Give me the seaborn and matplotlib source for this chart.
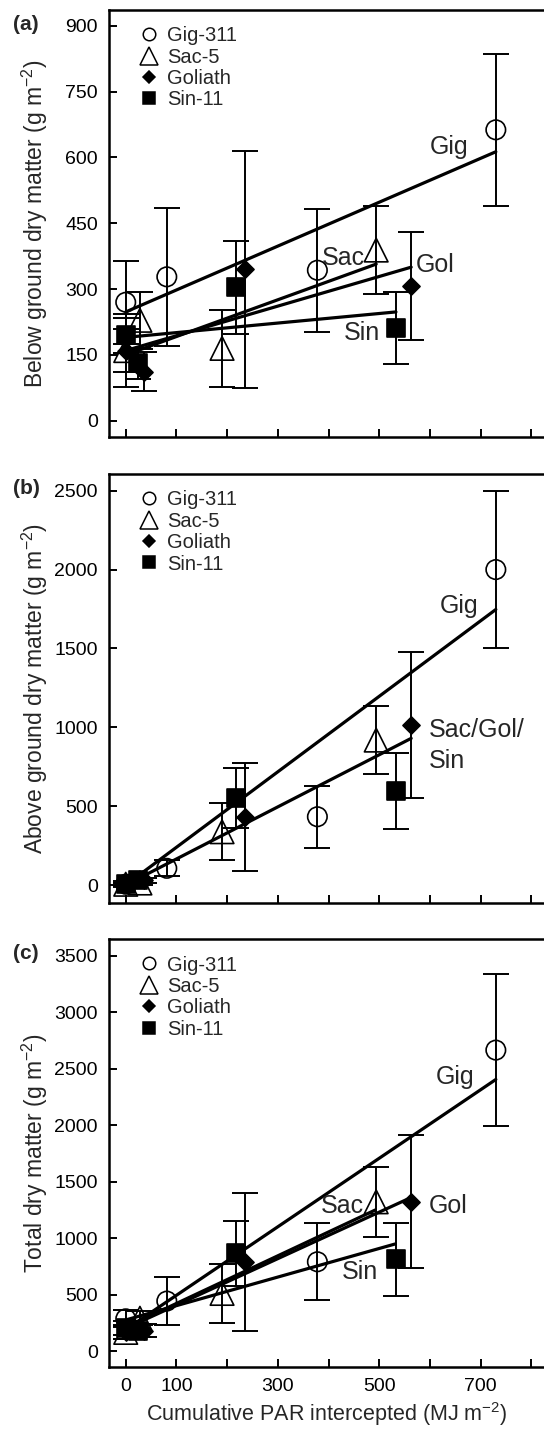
import numpy as np
import pandas as pd
import matplotlib
matplotlib.use("Agg")
import matplotlib.pyplot as plt
from matplotlib.lines import Line2D
import seaborn as sns

# ---------------- data ----------------
genotypes = ["Gig-311", "Sac-5", "Goliath", "Sin-11"]

# cumulative PAR intercepted (MJ m-2) at each harvest
gig_x = [0, 81, 378, 730]
sac_x = [0, 28, 190, 494]
gol_x = [0, 37, 236, 563]
sin_x = [0, 25, 217, 533]

# (a) below ground dry matter
gig_below = [270, 328, 343, 663]
gig_below_err = [95, 157, 140, 173]
sac_below = [160, 229, 165, 389]
sac_below_err = [50, 65, 87, 100]
gol_below = [160, 112, 345, 308]
gol_below_err = [83, 45, 270, 123]
sin_below = [195, 131, 304, 211]
sin_below_err = [40, 35, 106, 82]

# (b) above ground dry matter
gig_above = [5, 106, 433, 2000]
gig_above_err = [20, 50, 197, 500]
sac_above = [5, 13, 338, 919]
sac_above_err = [10, 15, 180, 215]
gol_above = [5, 30, 433, 1014]
gol_above_err = [10, 15, 343, 465]
sin_above = [5, 30, 549, 598]
sin_above_err = [10, 15, 190, 240]

# (c) total dry matter
gig_total = [285, 442, 790, 2664]
gig_total_err = [75, 210, 340, 675]
sac_total = [165, 290, 510, 1321]
sac_total_err = [60, 60, 260, 310]
gol_total = [170, 180, 790, 1321]
gol_total_err = [60, 60, 610, 590]
sin_total = [205, 180, 864, 811]
sin_total_err = [60, 60, 290, 320]

# fitted regression lines: (x0, y0, x1, y1)
lines_a = {"Gig": (0, 248, 730, 613), "Sac": (0, 150, 494, 357),
           "Gol": (0, 160, 563, 350), "Sin": (0, 190, 533, 248)}
lines_b = {"Gig": (0, 0, 730, 1747), "Sac/Gol/Sin": (0, 0, 563, 930)}
lines_c = {"Gig": (0, 190, 730, 2404), "Sac": (0, 210, 492, 1248),
           "Gol": (0, 200, 559, 1351), "Sin": (0, 275, 531, 947)}

# line labels: (text, x, y baseline)
labels_a = [("Gig", 600, 609), ("Sac", 387, 355), ("Gol", 573, 340), ("Sin", 431, 184)]
labels_b = [("Gig", 619, 1726), ("Sac/Gol/", 597, 940), ("Sin", 597, 739)]
labels_c = [("Gig", 611, 2363), ("Sac", 385, 1224), ("Gol", 598, 1224), ("Sin", 427, 634)]

y_labels = ["Below ground dry matter (g m$^{-2}$)",
            "Above ground dry matter (g m$^{-2}$)",
            "Total dry matter (g m$^{-2}$)"]
x_label = "Cumulative PAR intercepted (MJ m$^{-2}$)"
panel_tags = ["(a)", "(b)", "(c)"]

yticks_a = [0, 150, 300, 450, 600, 750, 900]
yticks_b = [0, 500, 1000, 1500, 2000, 2500]
yticks_c = [0, 500, 1000, 1500, 2000, 2500, 3000, 3500]
xtick_values = [0, 100, 200, 300, 400, 500, 600, 700, 800]
xtick_labels = ["0", "100", "", "300", "", "500", "", "700", ""]

# ---------------- style ----------------
sns.set_theme(style="ticks")
plt.rcParams["font.family"] = ["Liberation Sans", "DejaVu Sans"]
plt.rcParams["mathtext.fontset"] = "custom"
plt.rcParams["mathtext.rm"] = "Liberation Sans"
plt.rcParams["mathtext.it"] = "Liberation Sans:italic"
plt.rcParams["mathtext.bf"] = "Liberation Sans:bold"

marker_style = {
    "Gig-311": dict(marker="o", size=14.0, face="none"),
    "Sac-5": dict(marker="^", size=17.0, face="none"),
    "Goliath": dict(marker="D", size=8.7, face="black"),
    "Sin-11": dict(marker="s", size=12.7, face="black"),
}
legend_sizes = {"Gig-311": 9.0, "Sac-5": 12.5, "Goliath": 6.5, "Sin-11": 8.5}

fig = plt.figure(figsize=(5.44, 14.31), dpi=100)
W, H = 544, 1431
left_px, right_px = 109, 544
boxes = [(10, 437), (474, 902.7), (939.3, 1366.7)]
ylims = [(-37, 936), (-112, 2606), (-139, 3645)]
yticks_all = [yticks_a, yticks_b, yticks_c]
xlim = (-33, 825)

panel_data = [
    {"Gig-311": (gig_x, gig_below, gig_below_err), "Sac-5": (sac_x, sac_below, sac_below_err),
     "Goliath": (gol_x, gol_below, gol_below_err), "Sin-11": (sin_x, sin_below, sin_below_err)},
    {"Gig-311": (gig_x, gig_above, gig_above_err), "Sac-5": (sac_x, sac_above, sac_above_err),
     "Goliath": (gol_x, gol_above, gol_above_err), "Sin-11": (sin_x, sin_above, sin_above_err)},
    {"Gig-311": (gig_x, gig_total, gig_total_err), "Sac-5": (sac_x, sac_total, sac_total_err),
     "Goliath": (gol_x, gol_total, gol_total_err), "Sin-11": (sin_x, sin_total, sin_total_err)},
]
panel_lines = [lines_a, lines_b, lines_c]
panel_labels = [labels_a, labels_b, labels_c]

for i in range(3):
    top_px, bot_px = boxes[i]
    ax = fig.add_axes([left_px / W, 1 - bot_px / H, (right_px - left_px) / W, (bot_px - top_px) / H])

    # regression lines
    for name, (x0, y0, x1, y1) in panel_lines[i].items():
        df_line = pd.DataFrame({"x": [x0, x1], "y": [y0, y1]})
        sns.lineplot(data=df_line, x="x", y="y", ax=ax, color="black", lw=2.3,
                     zorder=3, legend=False)

    # points + error bars
    for g in genotypes:
        xs, ys, es = panel_data[i][g]
        st = marker_style[g]
        ax.errorbar(xs, ys, yerr=es, fmt="none", ecolor="black", elinewidth=1.4,
                    capsize=9.5, capthick=1.4, zorder=2)
        df = pd.DataFrame({"x": xs, "y": ys})
        sns.scatterplot(data=df, x="x", y="y", ax=ax, marker=st["marker"],
                        s=st["size"] ** 2, facecolor=st["face"], edgecolor="black",
                        linewidth=1.2, zorder=4, legend=False)

    # line labels
    for txt, tx, ty in panel_labels[i]:
        ax.text(tx, ty, txt, fontsize=18, ha="left", va="baseline", zorder=5)

    ax.set_xlim(*xlim)
    ax.set_ylim(*ylims[i])
    ax.set_yticks(yticks_all[i])
    ax.set_xticks(xtick_values)
    if i == 2:
        ax.set_xticklabels(xtick_labels)
        ax.set_xlabel(x_label, fontsize=15.5, labelpad=4)
    else:
        ax.set_xticklabels([])
        ax.set_xlabel("")
    ax.set_ylabel(y_labels[i], fontsize=16.5)
    ax.yaxis.set_label_coords(-0.135, 0.5)
    ax.tick_params(direction="in", length=6, width=1.4, labelsize=14, pad=8, colors="black")
    for sp in ["left", "top", "bottom"]:
        ax.spines[sp].set_linewidth(1.8)
        ax.spines[sp].set_color("black")
    ax.spines["right"].set_visible(False)

    handles = [Line2D([], [], ls="none", marker=marker_style[g]["marker"],
                      markersize=legend_sizes[g], markerfacecolor=marker_style[g]["face"],
                      markeredgecolor="black", markeredgewidth=1.1) for g in genotypes]
    ax.legend(handles, genotypes, loc="upper left", bbox_to_anchor=(0.068, 0.962),
              frameon=False, fontsize=14.5, handlelength=1.0, handletextpad=0.4,
              labelspacing=0.12, borderpad=0, borderaxespad=0)

    fig.text(13 / W, 1 - (top_px + 14) / H, panel_tags[i], fontsize=15, fontweight="bold",
             ha="left", va="center")

fig.savefig("out.png", dpi=100)
